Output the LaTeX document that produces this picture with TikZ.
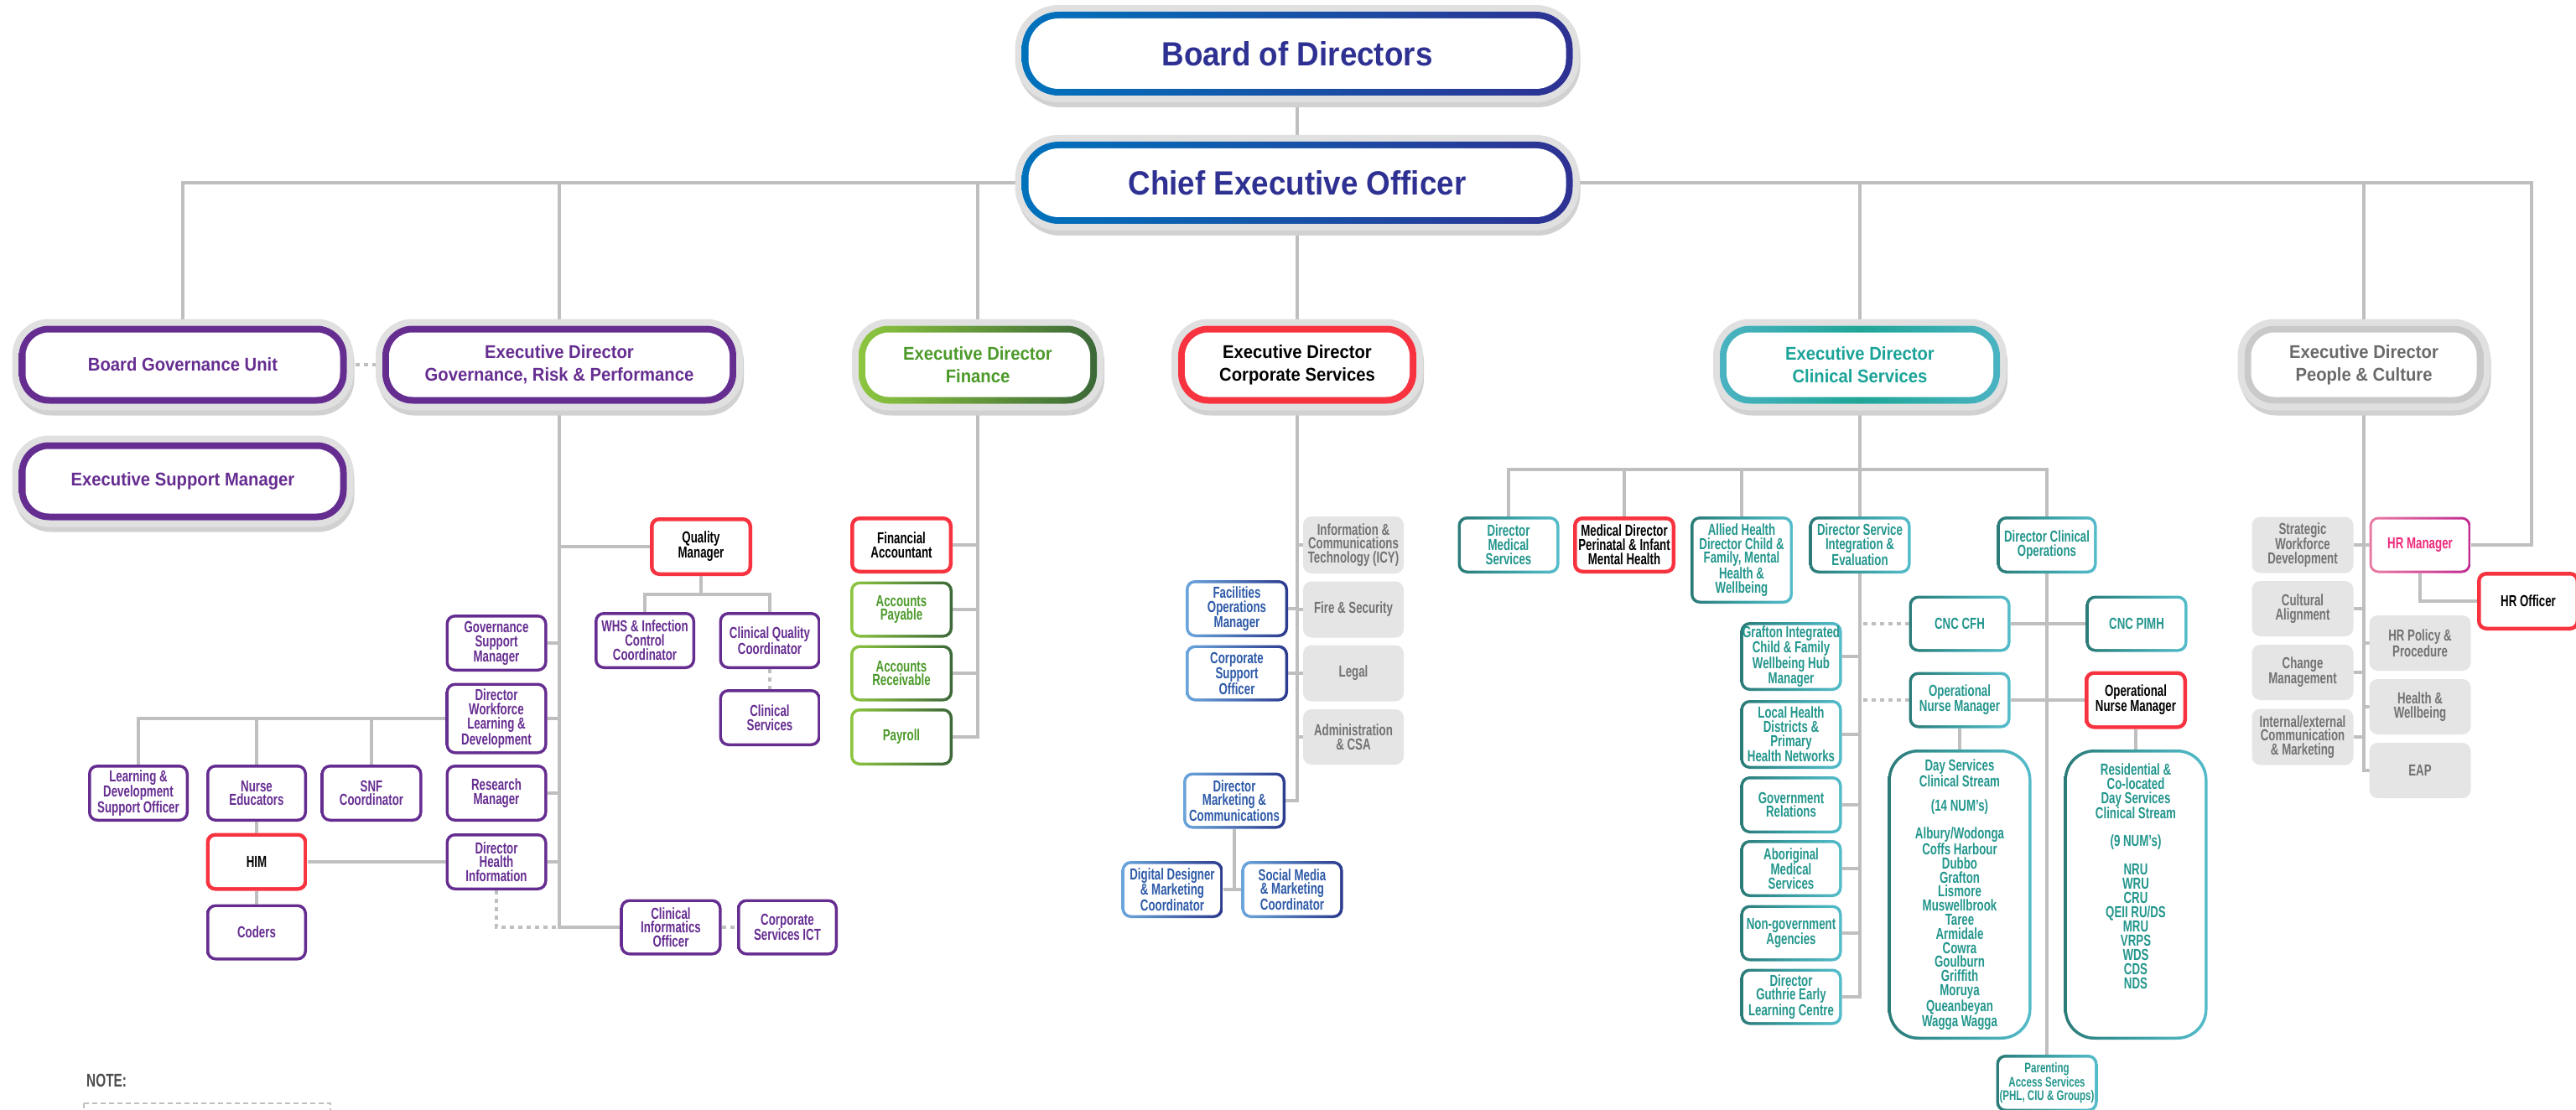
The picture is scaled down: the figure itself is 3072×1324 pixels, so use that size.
\documentclass[tikz,border=0pt]{standalone}
\usepackage{fontspec}
\usetikzlibrary{backgrounds}
\newfontfamily\hfnt{Liberation Sans}[FakeStretch=0.92]
\newfontfamily\sfnt{Liberation Sans}[FakeStretch=0.70]
\definecolor{lnc}{HTML}{BFBFBF}
\definecolor{ringc}{HTML}{E0E0E0}
\definecolor{purp}{HTML}{662D91}
\definecolor{bluL}{HTML}{0072BC}
\definecolor{bluR}{HTML}{2E3192}
\definecolor{grnL}{HTML}{8DC63F}
\definecolor{grnR}{HTML}{3B6838}
\definecolor{grnT}{HTML}{4C9A2A}
\definecolor{redc}{HTML}{F7333F}
\definecolor{tlL}{HTML}{4BB3C2}
\definecolor{tlM}{HTML}{1FA596}
\definecolor{tlT}{HTML}{1BA399}
\definecolor{tsL}{HTML}{2B7B78}
\definecolor{tsM}{HTML}{3A9FA3}
\definecolor{tsR}{HTML}{55BCCB}
\definecolor{tsT}{HTML}{23968D}
\definecolor{cbL}{HTML}{6AA5DC}
\definecolor{cbR}{HTML}{2B3A8E}
\definecolor{cbT}{HTML}{2E5AA8}
\definecolor{pkL}{HTML}{EA7BA4}
\definecolor{pkR}{HTML}{C0288F}
\definecolor{pkT}{HTML}{EE2A7B}
\definecolor{gboxc}{HTML}{E5E5E5}
\definecolor{gtxt}{HTML}{727272}
\definecolor{pcb}{HTML}{C9C9C9}
\definecolor{pct}{HTML}{6A6A6A}
\definecolor{notec}{HTML}{4D4D4D}
\tikzset{
  conn/.style={draw=lnc, line width=4pt},
  dconn/.style={draw=lnc, line width=4pt, dash pattern=on 5pt off 5pt},
  gb/.style n args={5}{path picture={
    \shade[left color=#1, right color=#3, middle color=#2]
      (path picture bounding box.south west) rectangle (path picture bounding box.north east);
    \fill[white, rounded corners=#5]
      ([shift={(#4,#4)}]path picture bounding box.south west) rectangle
      ([shift={(-#4,-#4)}]path picture bounding box.north east);}},
  sz/.style 2 args={minimum width=#1pt, minimum height=#2pt},
  bigbox/.style={rectangle, rounded corners=36pt, inner sep=0pt, outer sep=0pt, align=center, fill=white,
    preaction={draw=black!18, line width=14pt, transform canvas={shift={(2pt,-7pt)}}},
    preaction={draw=ringc, line width=16pt},
    font=\hfnt\bfseries\fontsize{22pt}{27pt}\selectfont},
  bpurp/.style={bigbox, gb={purp}{purp}{purp}{8pt}{28pt}, text=purp},
  bblue/.style={bigbox, rounded corners=44pt, gb={bluL}{bluL!50!bluR}{bluR}{8pt}{36pt}, text=bluR,
    font=\hfnt\bfseries\fontsize{40pt}{44pt}\selectfont},
  bgreen/.style={bigbox, gb={grnL}{grnL!50!grnR}{grnR}{8pt}{28pt}, text=grnT},
  bred/.style={bigbox, gb={redc}{redc}{redc}{8pt}{28pt}, text=black},
  bteal/.style={bigbox, gb={tlL}{tlM}{tlL}{8pt}{28pt}, text=tlT},
  bgray/.style={bigbox, gb={pcb}{pcb}{pcb}{8pt}{28pt}, text=pct},
  sm/.style={rectangle, rounded corners=11pt, inner sep=0pt, outer sep=0pt, align=center, fill=white,
    font=\sfnt\bfseries\fontsize{19pt}{16.8pt}\selectfont},
  pbox/.style={sm, gb={purp}{purp}{purp}{3.5pt}{8pt}, text=purp},
  rbox/.style={sm, gb={redc}{redc}{redc}{4.5pt}{7pt}, text=black},
  gnbox/.style={sm, gb={grnL}{grnL!50!grnR}{grnR}{3.5pt}{8pt}, text=grnT},
  bbox/.style={sm, gb={cbL}{cbL!50!cbR}{cbR}{3.5pt}{8pt}, text=cbT},
  tbox/.style={sm, gb={tsL}{tsM}{tsR}{3.5pt}{8pt}, text=tsT},
  tbig/.style={tbox, rounded corners=36pt, gb={tsL}{tsM}{tsR}{3.5pt}{33pt}},
  pkbox/.style={sm, gb={pkL}{pkL!50!pkR}{pkR}{3pt}{8pt}, text=pkT},
  graybx/.style={sm, fill=gboxc, text=gtxt, rounded corners=10pt},
  tsx/.style={align=center, inner sep=0pt, text=tsT, font=\sfnt\bfseries\fontsize{19pt}{16.8pt}\selectfont},
}
\begin{document}
\begin{tikzpicture}[x=1pt,y=-1pt]
\useasboundingbox (0,0) rectangle (3072,1324);
% ---------- top ----------
\node[bblue, sz={657}{100}] (bod) at (1547,64) {Board of Directors};
\node[bblue, sz={657}{98}] (ceo) at (1547,218) {Chief Executive Officer};
% ---------- executive row ----------
\node[bpurp, sz={391}{93}] (bgu) at (218,435) {Board Governance Unit};
\node[bpurp, sz={391}{93}] (esm) at (218,574) {Executive Support Manager};
\node[bpurp, sz={422}{93}] (grp) at (667,435) {Executive Director\\Governance, Risk \& Performance};
\node[bgreen, sz={284}{93}] (fin) at (1166,435) {Executive Director\\Finance};
\node[bred, sz={284}{93}] (cs) at (1547,435) {Executive Director\\Corporate Services};
\node[bteal, sz={334}{93}] (cl) at (2218,435) {Executive Director\\Clinical Services};
\node[bgray, sz={285}{93}] (pc) at (2819,435) {Executive Director\\People \& Culture};
% ---------- governance subtree ----------
\node[rbox, sz={122}{70}] (qm) at (836,652) {Quality\\Manager};
\node[pbox, sz={120}{68}] (whs) at (769,764) {WHS \& Infection\\Control\\Coordinator};
\node[pbox, sz={121}{68}] (cqc) at (918,764) {Clinical Quality\\Coordinator};
\node[pbox, sz={121}{68}] (csv) at (918,856) {Clinical\\Services};
\node[pbox, sz={121}{68}] (gsm) at (592,767) {Governance\\Support\\Manager};
\node[pbox, sz={121}{85}] (dwld) at (592,857) {Director\\Workforce\\Learning \&\\Development};
\node[pbox, sz={121}{68}] (rm) at (592,946) {Research\\Manager};
\node[pbox, sz={121}{68}] (dhi) at (592,1028) {Director\\Health\\Information};
\node[pbox, sz={120}{68}] (ldso) at (165,946) {Learning \&\\Development\\Support Officer};
\node[pbox, sz={120}{68}] (ne) at (306,946) {Nurse\\Educators};
\node[pbox, sz={121}{68}] (snf) at (443,946) {SNF\\Coordinator};
\node[rbox, sz={121}{69}] (him) at (306,1028) {HIM};
\node[pbox, sz={120}{67}] (cod) at (306,1112) {Coders};
\node[pbox, sz={121}{67}] (cio) at (800,1106) {Clinical\\Informatics\\Officer};
\node[pbox, sz={120}{67}] (csict) at (939,1106) {Corporate\\Services ICT};
% ---------- finance subtree ----------
\node[rbox, sz={122}{68}] (fa) at (1075,650) {Financial\\Accountant};
\node[gnbox, sz={122}{67}] (ap) at (1075,727) {Accounts\\Payable};
\node[gnbox, sz={122}{67}] (ar) at (1075,803) {Accounts\\Receivable};
\node[gnbox, sz={122}{68}] (pay) at (1075,879) {Payroll};
% ---------- corporate subtree ----------
\node[graybx, sz={120}{68}] (ict) at (1614,650) {Information \&\\Communications\\Technology (ICY)};
\node[graybx, sz={120}{67}] (fs) at (1614,727) {Fire \& Security};
\node[graybx, sz={120}{67}] (leg) at (1614,803) {Legal};
\node[graybx, sz={120}{66}] (adm) at (1614,879) {Administration\\\& CSA};
\node[bbox, sz={122}{68}] (fom) at (1475,726) {Facilities\\Operations\\Manager};
\node[bbox, sz={122}{67}] (cso) at (1475,803) {Corporate\\Support\\Officer};
\node[bbox, sz={122}{67}] (dmc) at (1472,955) {Director\\Marketing \&\\Communications};
\node[bbox, sz={121}{68}] (dd) at (1398,1061) {Digital Designer\\\& Marketing\\Coordinator};
\node[bbox, sz={121}{68}] (smc) at (1541,1061) {Social Media\\\& Marketing\\Coordinator};
% ---------- clinical subtree ----------
\node[tbox, sz={121}{68}] (dms) at (1799,650) {Director\\Medical\\Services};
\node[rbox, sz={122}{68}] (mdp) at (1937,650) {Medical Director\\Perinatal \& Infant\\Mental Health};
\node[tbox, sz={122}{104}] (ahd) at (2077,668) {Allied Health\\Director Child \&\\Family, Mental\\Health \&\\Wellbeing};
\node[tbox, sz={121}{68}] (dsie) at (2218,650) {Director Service\\Integration \&\\Evaluation};
\node[tbox, sz={119}{68}] (dco) at (2441,650) {Director Clinical\\Operations};
\node[tbox, sz={121}{82}] (graf) at (2136,783) {Grafton Integrated\\Child \& Family\\Wellbeing Hub\\Manager};
\node[tbox, sz={121}{82}] (lhd) at (2136,876) {Local Health\\Districts \&\\Primary\\Health Networks};
\node[tbox, sz={121}{68}] (gr) at (2136,960) {Government\\Relations};
\node[tbox, sz={121}{68}] (ams) at (2136,1036) {Aboriginal\\Medical\\Services};
\node[tbox, sz={121}{67}] (nga) at (2136,1113) {Non-government\\Agencies};
\node[tbox, sz={121}{67}] (dgelc) at (2136,1189) {Director\\Guthrie Early\\Learning Centre};
\node[tbox, sz={121}{67}] (cfh) at (2337,744) {CNC CFH};
\node[tbox, sz={121}{67}] (pimh) at (2548,744) {CNC PIMH};
\node[tbox, sz={121}{67}] (onma) at (2337,835) {Operational\\Nurse Manager};
\node[rbox, sz={122}{69}] (onmb) at (2547,835) {Operational\\Nurse Manager};
\node[tbig, sz={171}{346}] (dss) at (2337,1067) {Day Services\\Clinical Stream\\[12pt](14 NUM’s)\\[15pt]Albury/Wodonga\\Coffs Harbour\\Dubbo\\Grafton\\Lismore\\Muswellbrook\\Taree\\Armidale\\Cowra\\Goulburn\\Griffith\\Moruya\\Queanbeyan\\Wagga Wagga};
\node[tbig, sz={171}{346}] (res) at (2547,1067) {};
\node[tsx] (restx) at (2547,1045) {Residential \&\\Co-located\\Day Services\\Clinical Stream\\[16pt](9 NUM’s)\\[16pt]NRU\\WRU\\CRU\\QEII RU/DS\\MRU\\VRPS\\WDS\\CDS\\NDS};
\node[tbox, sz={121}{68}, font=\sfnt\bfseries\fontsize{16.5pt}{16.5pt}\selectfont] (pas) at (2441,1292) {Parenting\\Access Services\\(PHL, CIU \& Groups)};
% ---------- people & culture subtree ----------
\node[graybx, sz={121}{67}] (swd) at (2746,650) {Strategic\\Workforce\\Development};
\node[graybx, sz={121}{66}] (ca) at (2746,726) {Cultural\\Alignment};
\node[graybx, sz={121}{66}] (cm) at (2746,802) {Change\\Management};
\node[graybx, sz={121}{67}] (iecm) at (2746,879) {Internal/external\\Communication\\\& Marketing};
\node[pkbox, sz={121}{67}] (hrm) at (2886,650) {HR Manager};
\node[rbox, sz={122}{70}] (hro) at (3015,717) {HR Officer};
\node[graybx, sz={121}{66}] (hrpp) at (2886,767) {HR Policy \&\\Procedure};
\node[graybx, sz={121}{66}] (hw) at (2886,843) {Health \&\\Wellbeing};
\node[graybx, sz={121}{66}] (eap) at (2886,919) {EAP};
% ---------- note ----------
\node[anchor=west, inner sep=0pt, text=notec, font=\sfnt\bfseries\fontsize{22pt}{22pt}\selectfont] (note) at (103,1289) {NOTE:};
\draw[draw=lnc, line width=1.5pt, dash pattern=on 6pt off 4pt] (100,1316) rectangle (394,1350);
% ---------- connectors ----------
\begin{scope}[on background layer]
\fill[white] (0,0) rectangle (3072,1324);
\coordinate (hrc) at (3019,650);
\coordinate (qj) at (836,709);
\coordinate (cj) at (2218,560);
\draw[conn] (bod.south) -- (ceo.north);
\draw[conn] (bgu.north) |- (ceo.west);
\draw[conn] (grp.north) -- (grp.north |- ceo.west);
\draw[conn] (fin.north) -- (fin.north |- ceo.west);
\draw[conn] (ceo.south) -- (cs.north);
\draw[conn] (cl.north) -- (cl.north |- ceo.east);
\draw[conn] (pc.north) -- (pc.north |- ceo.east);
\draw[conn] (ceo.east) -| (hrc) -- (hrm.east);
\draw[dconn] (bgu.east) -- (grp.west);
% governance
\draw[conn] (grp.south) |- (cio.west);
\draw[conn] (qm.west) -- (qm.west -| grp.south);
\draw[conn] (gsm.east) -- (gsm.east -| grp.south);
\draw[conn] (dwld.east) -- (dwld.east -| grp.south);
\draw[conn] (rm.east) -- (rm.east -| grp.south);
\draw[conn] (dhi.east) -- (dhi.east -| grp.south);
\draw[conn] (dwld.west) -| (ldso.north);
\draw[conn] (ne.north) -- (ne.north |- dwld.west);
\draw[conn] (snf.north) -- (snf.north |- dwld.west);
\draw[conn] (ne.south) -- (him.north);
\draw[conn] (him.south) -- (cod.north);
\draw[conn] (him.east) -- (dhi.west);
\draw[dconn] (dhi.south) |- (grp.south |- cio.west);
\draw[dconn] (cio.east) -- (csict.west);
\draw[conn] (qm.south) -- (qj);
\draw[conn] (whs.north) |- (qj) -| (cqc.north);
\draw[dconn] (cqc.south) -- (csv.north);
% finance
\draw[conn] (fin.south) |- (pay.east);
\draw[conn] (fa.east) -- (fa.east -| fin.south);
\draw[conn] (ap.east) -- (ap.east -| fin.south);
\draw[conn] (ar.east) -- (ar.east -| fin.south);
% corporate
\draw[conn] (cs.south) |- (dmc.east);
\draw[conn] (ict.west) -- (ict.west -| cs.south);
\draw[conn] (fs.west) -- (fs.west -| cs.south);
\draw[conn] (leg.west) -- (leg.west -| cs.south);
\draw[conn] (adm.west) -- (adm.west -| cs.south);
\draw[conn] (fom.east) -- (fom.east -| cs.south);
\draw[conn] (cso.east) -- (cso.east -| cs.south);
\draw[conn] (dmc.south) -- (dmc.south |- dd.east);
\draw[conn] (dd.east) -- (smc.west);
% clinical
\draw[conn] (cl.south) -- (cj);
\draw[conn] (dms.north) |- (cj) -| (dco.north);
\draw[conn] (mdp.north) -- (mdp.north |- cj);
\draw[conn] (ahd.north) -- (ahd.north |- cj);
\draw[conn] (dsie.north) -- (dsie.north |- cj);
\draw[conn] (dsie.south) |- (dgelc.east);
\draw[conn] (graf.east) -- (graf.east -| dsie.south);
\draw[conn] (lhd.east) -- (lhd.east -| dsie.south);
\draw[conn] (gr.east) -- (gr.east -| dsie.south);
\draw[conn] (ams.east) -- (ams.east -| dsie.south);
\draw[conn] (nga.east) -- (nga.east -| dsie.south);
\draw[dconn] (cfh.west) -- (cfh.west -| dsie.south);
\draw[dconn] (onma.west) -- (onma.west -| dsie.south);
\draw[conn] (dco.south) -- (pas.north);
\draw[conn] (cfh.east) -- (pimh.west);
\draw[conn] (onma.east) -- (onmb.west);
\draw[conn] (onma.south) -- (dss.north);
\draw[conn] (onmb.south) -- (res.north);
% people & culture
\draw[conn] (pc.south) |- (eap.west);
\draw[conn] (swd.east) -- (swd.east -| pc.south);
\draw[conn] (ca.east) -- (ca.east -| pc.south);
\draw[conn] (cm.east) -- (cm.east -| pc.south);
\draw[conn] (iecm.east) -- (iecm.east -| pc.south);
\draw[conn] (hrm.west) -- (hrm.west -| pc.south);
\draw[conn] (hrpp.west) -- (hrpp.west -| pc.south);
\draw[conn] (hw.west) -- (hw.west -| pc.south);
\draw[conn] (hrm.south) |- (hro.west);
\end{scope}
\end{tikzpicture}
\end{document}
